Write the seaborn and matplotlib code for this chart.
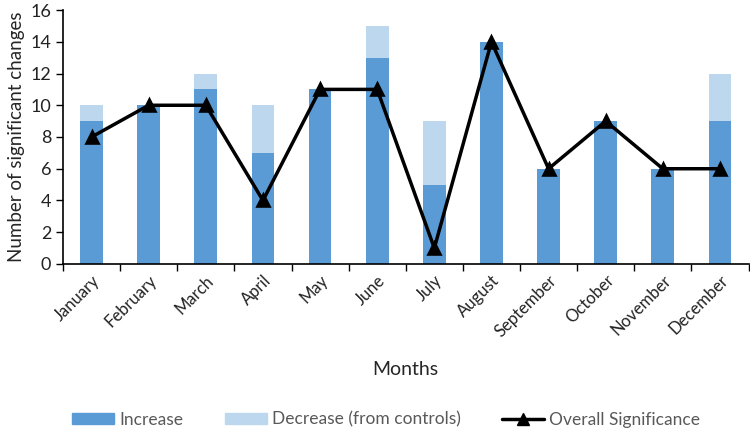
import matplotlib
matplotlib.use("Agg")
from matplotlib import pyplot as plt
from matplotlib.lines import Line2D
from matplotlib.patches import Patch
import seaborn as sns
import numpy as np

months = ['January', 'February', 'March', 'April', 'May', 'June',
          'July', 'August', 'September', 'October', 'November', 'December']
increase = [9, 10, 11, 7, 11, 13, 5, 14, 6, 9, 6, 9]
decrease = [1, 0, 1, 3, 0, 2, 4, 0, 0, 0, 0, 3]
overall = [8, 10, 10, 4, 11, 11, 1, 14, 6, 9, 6, 6]

dark = '#5B9BD5'
light = '#BDD7EE'

sns.set_style('white')
plt.rcParams['font.family'] = ['Lato', 'DejaVu Sans']

fig = plt.figure(figsize=(7.5, 4.37), dpi=100)
ax = fig.add_axes([0.084, 0.396, 0.914, 0.581])

totals = np.array(increase) + np.array(decrease)
# light bars for the full height, dark bars for the increase part on top
sns.barplot(x=months, y=totals, color=light, width=0.4, saturation=1,
            linewidth=0, ax=ax)
sns.barplot(x=months, y=increase, color=dark, width=0.4, saturation=1,
            linewidth=0, ax=ax)
sns.pointplot(x=months, y=overall, color='black', markers='^', linestyles='-',
              markersize=8, linewidth=2.5, ax=ax)

ax.set_xlim(-0.5, 11.5)
ax.set_ylim(0, 16)
ax.set_yticks(range(0, 17, 2))
ax.set_xticks(np.arange(-0.5, 12, 1), minor=True)
ax.set_xticks(range(12))
ax.set_xticklabels(months, rotation=45, ha='right', rotation_mode='anchor',
                   fontsize=12, color='#222222')
ax.tick_params(axis='x', which='major', length=0, pad=6)
ax.tick_params(axis='x', which='minor', length=5, width=1, color='black', direction='out')
ax.tick_params(axis='y', length=5, width=1, color='black', direction='out',
               labelsize=13, labelcolor='#222222')
ax.tick_params(axis='both', which='both', bottom=True, left=True)

for side in ['top', 'right']:
    ax.spines[side].set_visible(False)
ax.spines['left'].set_color('black')
ax.spines['bottom'].set_color('black')
ax.spines['left'].set_linewidth(1.2)
ax.spines['bottom'].set_linewidth(1.2)

ax.set_ylabel('Number of significant changes', fontsize=13.5, labelpad=4)
ax.set_xlabel('Months', fontsize=14, labelpad=15)

handles = [Patch(color=dark, label='Increase'),
           Patch(color=light, label='Decrease (from controls)'),
           Line2D([0], [0], color='black', marker='^', markersize=8, linewidth=2.5,
                  label='Overall Significance')]
leg = fig.legend(handles=handles, loc='lower center', ncol=3, frameon=False,
                 bbox_to_anchor=(0.515, -0.015), fontsize=12.5, handlelength=2.4,
                 handleheight=0.6, handletextpad=0.3, columnspacing=2.4)
for t in leg.get_texts():
    t.set_color('#595959')

fig.savefig('out.png', dpi=100)
plt.close(fig)
